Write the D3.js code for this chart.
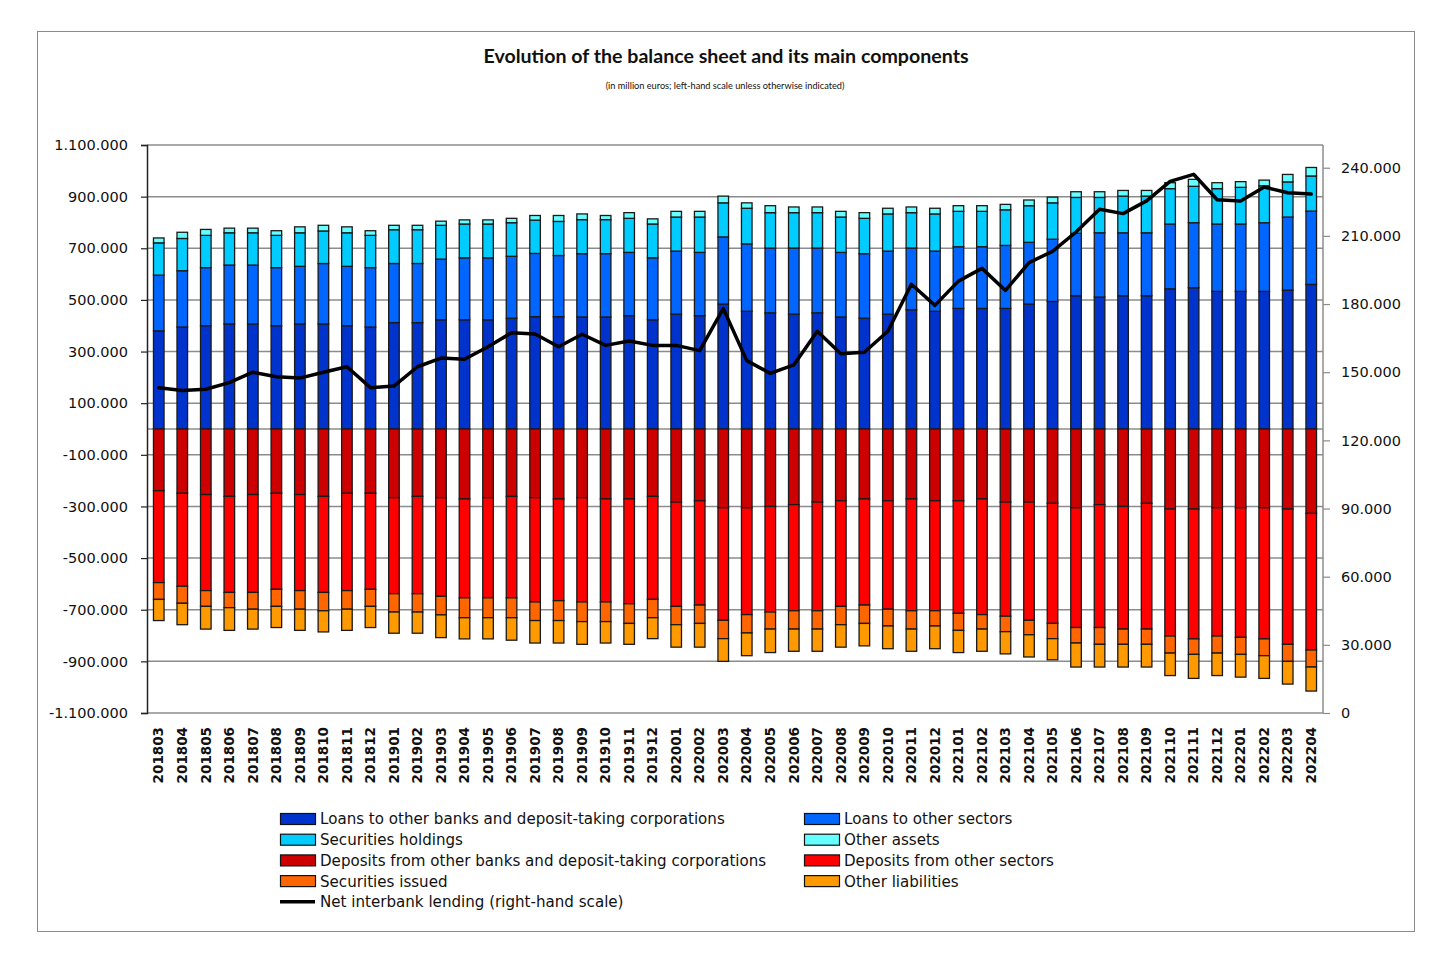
<!DOCTYPE html>
<html>
<head>
<meta charset="utf-8">
<script src="https://cdn.jsdelivr.net/npm/d3@7"></script>
<style>
  html, body { margin: 0; padding: 0; background: #ffffff; }
  svg { display: block; }
</style>
</head>
<body>
<script>
// ---------------- DATA (million euros) ----------------
const months = ["201803","201804","201805","201806","201807","201808","201809","201810","201811","201812",
  "201901","201902","201903","201904","201905","201906","201907","201908","201909","201910","201911","201912",
  "202001","202002","202003","202004","202005","202006","202007","202008","202009","202010","202011","202012",
  "202101","202102","202103","202104","202105","202106","202107","202108","202109","202110","202111","202112",
  "202201","202202","202203","202204"];

const loansBanks = [380000,395000,400000,407000,407000,400000,407000,407000,400000,395000,
  412000,412000,423000,423000,423000,429000,435000,435000,434000,434000,
  439000,423000,445000,439000,484000,456000,450000,445000,450000,434000,
  429000,445000,462000,456000,467000,467000,467000,484000,494000,516000,
  511000,516000,516000,543000,547000,533000,533000,533000,538000,560000];
const loansOther = [216000,218000,225000,228000,228000,225000,223000,234000,230000,230000,
  229000,229000,235000,240000,240000,240000,245000,237000,245000,245000,
  245000,240000,244000,245000,260000,261000,251000,256000,251000,250000,
  250000,244000,239000,233000,239000,239000,244000,239000,241000,242000,
  249000,244000,244000,251000,252000,261000,261000,266000,283000,284000];
const securitiesHoldings = [125000,125000,125000,125000,125000,125000,130000,126000,130000,125000,
  131000,131000,131000,131000,131000,130000,129000,132000,132000,132000,
  132000,131000,132000,137000,132000,138000,137000,137000,137000,137000,
  137000,144000,137000,144000,137000,137000,138000,142000,141000,139000,
  137000,142000,142000,137000,141000,137000,142000,143000,136000,136000];
const otherAssets = [19000,24000,23000,18000,18000,18000,23000,22000,23000,18000,
  17000,17000,16000,16000,16000,17000,18000,23000,22000,16000,
  22000,20000,22000,22000,26000,21000,27000,22000,22000,22000,
  22000,22000,22000,22000,22000,22000,21000,22000,22000,22000,
  22000,22000,22000,23000,27000,23000,22000,22000,29000,33000];
const depositsBanks = [-239000,-249000,-254000,-261000,-254000,-249000,-254000,-261000,-249000,-249000,
  -266000,-261000,-266000,-271000,-266000,-261000,-266000,-271000,-266000,-271000,
  -271000,-261000,-283000,-278000,-305000,-305000,-300000,-293000,-283000,-278000,
  -271000,-278000,-271000,-278000,-278000,-271000,-283000,-283000,-288000,-305000,
  -293000,-300000,-288000,-310000,-310000,-305000,-305000,-305000,-310000,-327000];
const depositsOther = [-356000,-360000,-372000,-372000,-379000,-372000,-372000,-372000,-377000,-372000,
  -372000,-377000,-382000,-383000,-388000,-393000,-404000,-394000,-404000,-399000,
  -406000,-399000,-404000,-404000,-436000,-414000,-409000,-411000,-421000,-409000,
  -411000,-420000,-433000,-426000,-436000,-448000,-442000,-458000,-465000,-464000,
  -476000,-475000,-487000,-492000,-503000,-497000,-502000,-508000,-524000,-529000];
const securitiesIssued = [-65000,-66000,-61000,-59000,-65000,-66000,-72000,-71000,-72000,-66000,
  -71000,-71000,-72000,-77000,-77000,-77000,-72000,-77000,-76000,-76000,
  -76000,-71000,-71000,-71000,-71000,-71000,-66000,-71000,-71000,-71000,
  -71000,-65000,-71000,-59000,-66000,-56000,-60000,-56000,-59000,-60000,
  -65000,-59000,-59000,-66000,-60000,-66000,-66000,-65000,-66000,-66000];
const otherLiabilities = [-82000,-83000,-88000,-88000,-77000,-82000,-82000,-82000,-82000,-82000,
  -82000,-82000,-88000,-82000,-82000,-87000,-87000,-87000,-88000,-83000,
  -81000,-81000,-87000,-92000,-88000,-88000,-91000,-86000,-86000,-87000,
  -87000,-88000,-86000,-88000,-86000,-86000,-86000,-86000,-82000,-93000,
  -88000,-88000,-88000,-87000,-93000,-87000,-88000,-88000,-88000,-93000];
const netInterbank = [143200,141900,142500,145400,150000,148000,147400,150000,152400,143200,
  143900,152400,156200,155700,161200,167400,166800,161200,166700,161800,
  163700,161800,161800,159500,178000,155100,149500,153200,168000,158100,
  158800,168000,188700,179400,190100,195700,186000,198200,203200,211700,
  221700,219800,225400,234000,237100,225900,225400,231500,229000,228400];

const leftTicks = [-1100000,-900000,-700000,-500000,-300000,-100000,100000,300000,500000,700000,900000,1100000];
const rightTicks = [0,30000,60000,90000,120000,150000,180000,210000,240000];

const seriesNames = ["Loans to other banks and deposit-taking corporations","Loans to other sectors",
  "Securities holdings","Other assets",
  "Deposits from other banks and deposit-taking corporations","Deposits from other sectors",
  "Securities issued","Other liabilities"];
const seriesData = [loansBanks, loansOther, securitiesHoldings, otherAssets,
  depositsBanks, depositsOther, securitiesIssued, otherLiabilities];
const seriesColors = ["#0033CC","#0066FF","#00CCFF","#66FFFF","#CC0000","#FF0000","#FF6600","#FF9900"];
const lineName = "Net interbank lending (right-hand scale)";

// ---------------- CHART ----------------
const W = 1451, H = 954;
const plot = {left: 147, right: 1323, top: 145, bottom: 713};
const FONT = "'DejaVu Sans', Verdana, sans-serif";

const svg = d3.select("body").append("svg").attr("width", W).attr("height", H);
svg.append("rect").attr("width", W).attr("height", H).attr("fill", "#fff");
svg.append("rect").attr("x", 37.5).attr("y", 31.5).attr("width", 1377).attr("height", 900)
  .attr("fill", "none").attr("stroke", "#8a8a8a").attr("stroke-width", 1);

const loc = d3.formatLocale({decimal: ",", thousands: ".", grouping: [3], currency: ["", ""], minus: "-"});
const fmt = loc.format(",");

const x = d3.scaleBand().domain(months).range([plot.left, plot.right]).paddingInner(0.55).paddingOuter(0.275);
const yL = d3.scaleLinear().domain([-1100000, 1100000]).range([plot.bottom, plot.top]);
const yR = d3.scaleLinear().domain([0, 250000]).range([plot.bottom, plot.top]);

// gridlines
const grid = svg.append("g");
grid.selectAll("line").data(leftTicks.concat([0])).join("line")
  .attr("x1", plot.left).attr("x2", plot.right)
  .attr("y1", d => yL(d)).attr("y2", d => yL(d))
  .attr("stroke", "#8c8c8c").attr("stroke-width", 1.5);
// right border
svg.append("line").attr("x1", plot.right).attr("x2", plot.right).attr("y1", plot.top).attr("y2", plot.bottom)
  .attr("stroke", "#8c8c8c").attr("stroke-width", 1.5);

// stacked bars
const rows = months.map((m, i) => {
  const r = {month: m};
  seriesNames.forEach((s, k) => r[s] = seriesData[k][i]);
  return r;
});
const stack = d3.stack().keys(seriesNames).offset(d3.stackOffsetDiverging);
const stacked = stack(rows);

const barsG = svg.append("g");
stacked.forEach((layer, k) => {
  barsG.append("g").attr("fill", seriesColors[k])
    .selectAll("rect").data(layer).join("rect")
    .attr("x", d => x(d.data.month))
    .attr("width", x.bandwidth())
    .attr("y", d => yL(Math.max(d[0], d[1])))
    .attr("height", d => Math.abs(yL(d[0]) - yL(d[1])))
    .attr("stroke", "#1a1a1a").attr("stroke-width", 1.3);
});

// left axis
const axL = svg.append("g").attr("transform", `translate(${plot.left},0)`)
  .call(d3.axisLeft(yL).tickValues(leftTicks).tickFormat(fmt).tickSize(6).tickPadding(13));
axL.select(".domain").attr("stroke", "#222").attr("stroke-width", 1.5);
axL.selectAll(".tick line").attr("stroke", "#222").attr("stroke-width", 1.2);
axL.selectAll("text").attr("font-family", FONT).attr("font-size", "14.5px").attr("fill", "#111");

// right axis
const axR = svg.append("g").attr("transform", `translate(${plot.right},0)`)
  .call(d3.axisRight(yR).tickValues(rightTicks).tickFormat(fmt).tickSize(7).tickPadding(11));
axR.select(".domain").remove();
axR.selectAll(".tick line").attr("stroke", "#8c8c8c").attr("stroke-width", 1.2);
axR.selectAll("text").attr("font-family", FONT).attr("font-size", "14.5px").attr("fill", "#111");

// x axis labels
const axX = svg.append("g").attr("transform", `translate(0,${plot.bottom})`)
  .call(d3.axisBottom(x).tickSize(0).tickPadding(0));
axX.select(".domain").remove();
axX.selectAll(".tick text")
  .attr("font-family", FONT).attr("font-size", "13.5px").attr("font-weight", "bold").attr("fill", "#111")
  .attr("text-anchor", "end").attr("dy", "0.35em")
  .attr("transform", "translate(0,14) rotate(-90)")
  .attr("x", 0).attr("y", 0);

// line
const line = d3.line()
  .x((d, i) => x(months[i]) + x.bandwidth() / 2)
  .y(d => yR(d));
svg.append("path").datum(netInterbank).attr("d", line)
  .attr("fill", "none").attr("stroke", "#000").attr("stroke-width", 3.5)
  .attr("stroke-linejoin", "round").attr("stroke-linecap", "round");

// title
svg.append("text").attr("x", 726).attr("y", 63).attr("text-anchor", "middle")
  .attr("font-family", "Lato, 'Open Sans', sans-serif").attr("font-weight", "bold").attr("font-size", "19.6px")
  .attr("fill", "#111").text("Evolution of the balance sheet and its main components");
svg.append("text").attr("x", 725).attr("y", 89).attr("text-anchor", "middle")
  .attr("font-family", "Lato, 'Open Sans', sans-serif").attr("font-size", "9.2px")
  .attr("fill", "#111").text("(in million euros; left-hand scale unless otherwise indicated)");

// legend
const legendItems = [
  {name: seriesNames[0], color: seriesColors[0], col: 0, row: 0},
  {name: seriesNames[1], color: seriesColors[1], col: 1, row: 0},
  {name: seriesNames[2], color: seriesColors[2], col: 0, row: 1},
  {name: seriesNames[3], color: seriesColors[3], col: 1, row: 1},
  {name: seriesNames[4], color: seriesColors[4], col: 0, row: 2},
  {name: seriesNames[5], color: seriesColors[5], col: 1, row: 2},
  {name: seriesNames[6], color: seriesColors[6], col: 0, row: 3},
  {name: seriesNames[7], color: seriesColors[7], col: 1, row: 3},
  {name: lineName, color: "#000", col: 0, row: 4, isLine: true}
];
const colX = [280, 804];
const rowY = d => 819 + d * 20.7;
const lg = svg.append("g");
legendItems.forEach(it => {
  const gx = colX[it.col], gy = rowY(it.row);
  if (it.isLine) {
    lg.append("line").attr("x1", gx).attr("x2", gx + 35).attr("y1", gy).attr("y2", gy)
      .attr("stroke", "#000").attr("stroke-width", 3.5);
  } else {
    lg.append("rect").attr("x", gx + 0.5).attr("y", gy - 5.5).attr("width", 35).attr("height", 11)
      .attr("fill", it.color).attr("stroke", "#111").attr("stroke-width", 1.2);
  }
  lg.append("text").attr("x", gx + 40).attr("y", gy).attr("dy", "0.36em")
    .attr("font-family", FONT).attr("font-size", "15.1px").attr("fill", "#111").text(it.name);
});
</script>
</body>
</html>
